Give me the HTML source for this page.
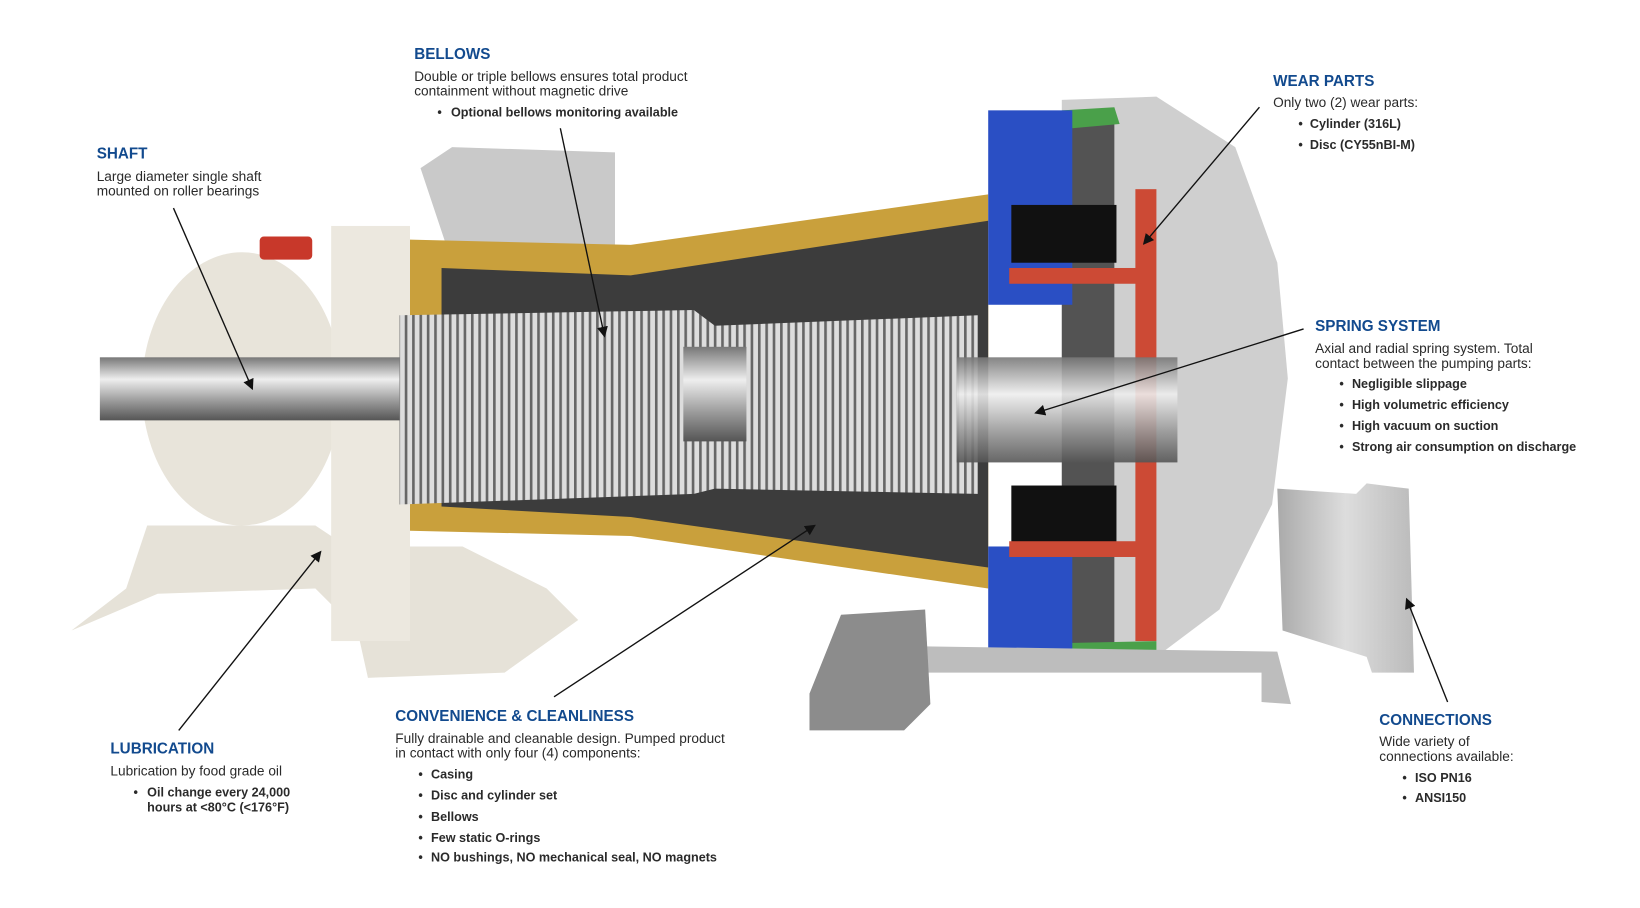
<!DOCTYPE html>
<html><head><meta charset="utf-8"><style>
html,body{margin:0;padding:0;background:#fff;}
svg{display:block}
.h{font-family:"Liberation Sans",sans-serif;font-weight:bold;font-size:14.5px;fill:#124a8e}
.b{font-family:"Liberation Sans",sans-serif;font-size:13px;fill:#2a2a2a}
.p{font-family:"Liberation Sans",sans-serif;font-size:12px;fill:#2a2a2a;font-weight:bold}
</style></head><body>
<svg width="1640" height="908" viewBox="0 0 1560 864" preserveAspectRatio="none" xmlns="http://www.w3.org/2000/svg">
<defs>
<linearGradient id="sh" x1="0" y1="0" x2="0" y2="1"><stop offset="0" stop-color="#777"/><stop offset=".35" stop-color="#eee"/><stop offset=".7" stop-color="#999"/><stop offset="1" stop-color="#555"/></linearGradient>
<linearGradient id="cs" x1="0" y1="0" x2="1" y2="0"><stop offset="0" stop-color="#aaa"/><stop offset=".5" stop-color="#ddd"/><stop offset="1" stop-color="#bbb"/></linearGradient>
<pattern id="st" width="7" height="10" patternUnits="userSpaceOnUse"><rect width="7" height="10" fill="#ddd"/><rect width="2.5" height="10" fill="#666"/></pattern>
<marker id="a" markerWidth="8" markerHeight="8" refX="7" refY="4" orient="auto"><path d="M0,0 L8,4 L0,8z" fill="#111"/></marker>
</defs>
<path d="M68,600 L150,565 L300,560 L340,600 L350,645 L480,640 L550,590 L520,560 L440,520 L330,520 L300,500 L140,500 L120,560 L68,600 Z" fill="#e6e2d8"/>
<ellipse cx="230" cy="370" rx="95" ry="130" fill="#e8e4da"/>
<rect x="315" y="215" width="75" height="395" fill="#ece8df"/>
<rect x="247" y="225" width="50" height="22" rx="4" fill="#c8382a"/>
<path d="M400,160 L430,140 L585,145 L585,250 L430,250 Z" fill="#c9c9c9"/>
<path d="M390,228 L600,233 L940,185 L940,560 L600,510 L390,505 Z" fill="#c9a03c"/>
<path d="M420,255 L600,262 L940,210 L940,540 L600,492 L420,482 Z" fill="#3c3c3c"/>
<path d="M1010,95 L1100,92 L1175,140 L1215,250 L1225,360 L1210,480 L1160,580 L1100,625 L1010,632 Z" fill="#cfcfcf"/>
<path d="M1010,108 L1060,108 L1060,625 L1010,625 Z" fill="#2a2a2a" opacity=".75"/>
<path d="M1010,105 L1060,102 L1065,118 L1020,122 Z" fill="#4aa04a"/>
<path d="M1010,612 L1100,610 L1100,625 L1015,628 Z" fill="#4aa04a"/>
<rect x="940" y="105" width="80" height="185" fill="#2a4fc4"/>
<rect x="940" y="520" width="80" height="100" fill="#2a4fc4"/>
<rect x="962" y="195" width="100" height="55" fill="#111"/>
<rect x="962" y="462" width="100" height="55" fill="#111"/>
<rect x="1080" y="180" width="20" height="430" fill="#cc4a35"/>
<rect x="960" y="255" width="125" height="15" fill="#cc4a35"/>
<rect x="960" y="515" width="125" height="15" fill="#cc4a35"/>
<rect x="95" y="340" width="340" height="60" fill="url(#sh)"/>
<path d="M380,300 L660,295 L680,310 L930,300 L930,470 L680,465 L660,470 L380,480 Z" fill="url(#st)"/>
<rect x="650" y="330" width="60" height="90" fill="url(#sh)"/>
<rect x="910" y="340" width="210" height="100" fill="url(#sh)" opacity=".9"/>
<path d="M1215,465 L1290,470 L1300,460 L1340,465 L1345,640 L1305,640 L1300,625 L1220,600 Z" fill="url(#cs)"/>
<path d="M880,615 L1215,620 L1228,670 L1200,668 L1200,640 L880,640 Z" fill="#bdbdbd"/>
<path d="M770,660 L800,585 L880,580 L885,670 L860,695 L770,695 Z" fill="#8c8c8c"/>
<g stroke="#111" stroke-width="1.3" fill="none" marker-end="url(#a)">
<line x1="165" y1="198" x2="240" y2="370"/>
<line x1="533" y1="122" x2="575" y2="320"/>
<line x1="1198" y1="102" x2="1088" y2="232"/>
<line x1="1240" y1="313" x2="985" y2="393"/>
<line x1="170" y1="695" x2="305" y2="525"/>
<line x1="527" y1="663" x2="775" y2="500"/>
<line x1="1377" y1="668" x2="1338" y2="570"/>
</g>
<text class="h" x="92" y="151">SHAFT</text>
<text class="b" x="92" y="172">Large diameter single shaft</text>
<text class="b" x="92" y="186">mounted on roller bearings</text>

<text class="h" x="394" y="56">BELLOWS</text>
<text class="b" x="394" y="77">Double or triple bellows ensures total product</text>
<text class="b" x="394" y="91">containment without magnetic drive</text>
<text class="p" x="416" y="111">•</text><text class="p" x="429" y="111">Optional bellows monitoring available</text>

<text class="h" x="1211" y="82">WEAR PARTS</text>
<text class="b" x="1211" y="102">Only two (2) wear parts:</text>
<text class="p" x="1235" y="122">•</text><text class="p" x="1246" y="122">Cylinder (316L)</text>
<text class="p" x="1235" y="142">•</text><text class="p" x="1246" y="142">Disc (CY55nBI-M)</text>

<text class="h" x="1251" y="315">SPRING SYSTEM</text>
<text class="b" x="1251" y="336">Axial and radial spring system. Total</text>
<text class="b" x="1251" y="350">contact between the pumping parts:</text>
<text class="p" x="1274" y="369">•</text><text class="p" x="1286" y="369">Negligible slippage</text>
<text class="p" x="1274" y="389">•</text><text class="p" x="1286" y="389">High volumetric efficiency</text>
<text class="p" x="1274" y="409">•</text><text class="p" x="1286" y="409">High vacuum on suction</text>
<text class="p" x="1274" y="429">•</text><text class="p" x="1286" y="429">Strong air consumption on discharge</text>

<text class="h" x="105" y="717">LUBRICATION</text>
<text class="b" x="105" y="738">Lubrication by food grade oil</text>
<text class="p" x="127" y="758">•</text><text class="p" x="140" y="758">Oil change every 24,000</text>
<text class="p" x="140" y="772">hours at &lt;80°C (&lt;176°F)</text>

<text class="h" x="376" y="686">CONVENIENCE &amp; CLEANLINESS</text>
<text class="b" x="376" y="707">Fully drainable and cleanable design. Pumped product</text>
<text class="b" x="376" y="721">in contact with only four (4) components:</text>
<text class="p" x="398" y="741">•</text><text class="p" x="410" y="741">Casing</text>
<text class="p" x="398" y="761">•</text><text class="p" x="410" y="761">Disc and cylinder set</text>
<text class="p" x="398" y="781">•</text><text class="p" x="410" y="781">Bellows</text>
<text class="p" x="398" y="801">•</text><text class="p" x="410" y="801">Few static O-rings</text>
<text class="p" x="398" y="820">•</text><text class="p" x="410" y="820">NO bushings, NO mechanical seal, NO magnets</text>

<text class="h" x="1312" y="690">CONNECTIONS</text>
<text class="b" x="1312" y="710">Wide variety of</text>
<text class="b" x="1312" y="724">connections available:</text>
<text class="p" x="1334" y="744">•</text><text class="p" x="1346" y="744">ISO PN16</text>
<text class="p" x="1334" y="763">•</text><text class="p" x="1346" y="763">ANSI150</text>
</svg>
</body></html>
